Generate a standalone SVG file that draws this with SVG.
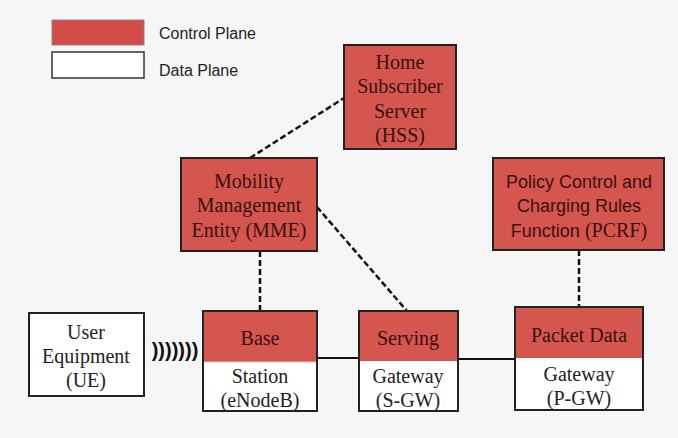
<svg xmlns="http://www.w3.org/2000/svg" width="678" height="438" viewBox="0 0 678 438">
<style>
.bg{fill:#f6f6f6}
.ctl{fill:#d5564f;stroke:#222;stroke-width:2}
.dat{fill:#ffffff;stroke:#222;stroke-width:2}
.ser{font-family:"Liberation Serif","Times New Roman",serif;font-size:20px;text-anchor:middle}
.san{font-family:"Liberation Sans",Arial,sans-serif;font-size:18px;text-anchor:middle}
.dk{fill:#3a0f0f}
.bk{fill:#222}
.leg{font-family:"Liberation Sans",Arial,sans-serif;font-size:16px;fill:#222}
.dash{fill:none;stroke:#111;stroke-width:2.5;stroke-dasharray:6,3}
.solid{fill:none;stroke:#111;stroke-width:2}
</style>
<rect class="bg" x="0" y="0" width="678" height="438"/>
<g id="legend">
<rect x="52" y="20" width="92" height="25" fill="#d34b47" stroke="#888" stroke-width="1"/>
<rect x="52" y="52" width="92" height="26" fill="#fff" stroke="#333" stroke-width="1.5"/>
<text class="leg" x="159" y="39">Control Plane</text>
<text class="leg" x="159" y="76">Data Plane</text>
</g>
<g id="connectors">
<line class="dash" x1="250" y1="158" x2="344" y2="98"/>
<line class="dash" x1="260" y1="251" x2="260" y2="311"/>
<line class="dash" x1="317" y1="207" x2="407" y2="311"/>
<line class="dash" x1="579" y1="250" x2="579" y2="307"/>
<line class="solid" x1="317" y1="358" x2="359" y2="358"/>
<line class="solid" x1="458" y1="359" x2="515" y2="359"/>
<text x="175" y="357" font-family="Liberation Sans,Arial,sans-serif" font-size="20" font-weight="bold" fill="#111" text-anchor="middle">)))))))</text>
</g>
<g id="hss">
<rect class="ctl" x="344" y="45" width="112" height="104"/>
<text class="ser dk" x="400" y="69">Home</text>
<text class="ser dk" x="400" y="93">Subscriber</text>
<text class="ser dk" x="400" y="118">Server</text>
<text class="ser dk" x="400" y="142">(HSS)</text>
</g>
<g id="mme">
<rect class="ctl" x="181" y="158" width="136" height="93"/>
<text class="ser dk" x="249" y="188">Mobility</text>
<text class="ser dk" x="249" y="212">Management</text>
<text class="ser dk" x="249" y="237">Entity (MME)</text>
</g>
<g id="pcrf">
<rect class="ctl" x="493" y="158" width="171" height="92"/>
<text class="san dk" x="579" y="188">Policy Control and</text>
<text class="san dk" x="579" y="212">Charging Rules</text>
<text class="san dk" x="579" y="237">Function <tspan font-family="Liberation Serif,Times New Roman,serif" font-size="20">(PCRF)</tspan></text>
</g>
<g id="ue">
<rect class="dat" x="29" y="313" width="115" height="83"/>
<text class="ser bk" x="86" y="339">User</text>
<text class="ser bk" x="86" y="363">Equipment</text>
<text class="ser bk" x="86" y="387">(UE)</text>
</g>
<g id="enodeb">
<rect class="dat" x="203" y="311" width="114" height="100"/>
<rect x="204" y="312" width="112" height="50" fill="#d5564f"/>
<line x1="203" y1="362" x2="317" y2="362" stroke="#ccc" stroke-width="1"/>
<rect x="203" y="311" width="114" height="100" fill="none" stroke="#222" stroke-width="2"/>
<text class="ser dk" x="260" y="345">Base</text>
<text class="ser bk" x="260" y="383">Station</text>
<text class="ser bk" x="260" y="407">(eNodeB)</text>
</g>
<g id="sgw">
<rect class="dat" x="359" y="311" width="99" height="100"/>
<rect x="360" y="312" width="97" height="49" fill="#d5564f"/>
<rect x="359" y="311" width="99" height="100" fill="none" stroke="#222" stroke-width="2"/>
<text class="ser dk" x="408" y="345">Serving</text>
<text class="ser bk" x="408" y="383">Gateway</text>
<text class="ser bk" x="408" y="407">(S-GW)</text>
</g>
<g id="pgw">
<rect class="dat" x="515" y="307" width="128" height="103"/>
<rect x="516" y="308" width="126" height="50" fill="#d5564f"/>
<rect x="515" y="307" width="128" height="103" fill="none" stroke="#222" stroke-width="2"/>
<text class="ser dk" x="579" y="342">Packet Data</text>
<text class="ser bk" x="579" y="381">Gateway</text>
<text class="ser bk" x="579" y="405">(P-GW)</text>
</g>
</svg>
